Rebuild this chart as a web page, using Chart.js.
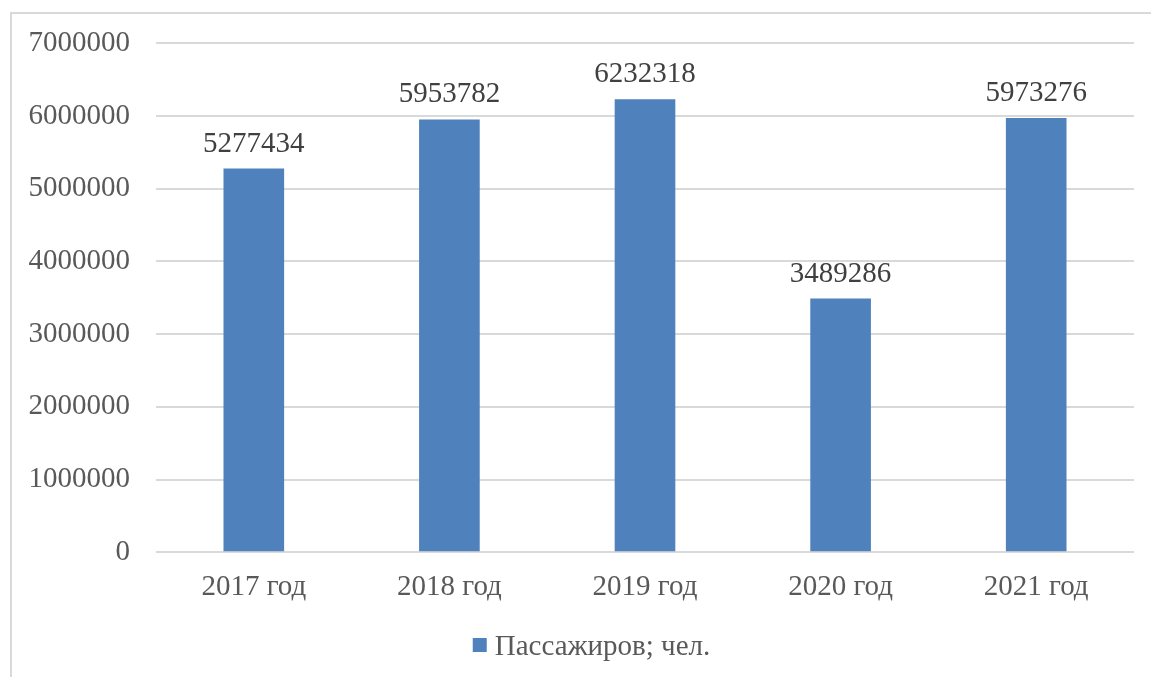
<!DOCTYPE html>
<html lang="ru">
<head>
<meta charset="utf-8">
<title>Пассажиров; чел.</title>
<script src="https://cdn.jsdelivr.net/npm/chart.js@4.4.1/dist/chart.umd.min.js"></script>
<style>
  html, body { margin: 0; padding: 0; background: #fff; overflow: hidden; }
  .frame {
    position: absolute; left: 10px; top: 12px;
    width: 1300px; height: 800px;
    border: 2px solid #d9d9d9;
  }
  .wrap { position: absolute; left: 0; top: 0; width: 1151px; height: 677px; }
</style>
</head>
<body>
<div class="frame"></div>
<div class="wrap"><canvas id="chart-passengers"></canvas></div>
<script>
const years = ['2017 год', '2018 год', '2019 год', '2020 год', '2021 год'];
const passengers = [5277434, 5953782, 6232318, 3489286, 5973276];
const seriesLabel = 'Пассажиров; чел.';

const BAR_COLOR = 'rgb(79, 129, 189)';
const FONT = '"Liberation Serif", "Times New Roman", serif';

// labels over bars, no datalabels plugin available offline
const valueLabels = {
  id: 'valueLabels',
  afterDatasetsDraw(chart) {
    const { ctx } = chart;
    const meta = chart.getDatasetMeta(0);
    ctx.save();
    ctx.font = `29px ${FONT}`;
    ctx.fillStyle = '#404040';
    ctx.textAlign = 'center';
    ctx.textBaseline = 'alphabetic';
    meta.data.forEach((bar, i) => {
      ctx.fillText(String(chart.data.datasets[0].data[i]), bar.x, bar.y - 17);
    });
    ctx.restore();
  }
};

// Excel-like legend: small square, tight gap, slightly right of centre
const bottomLegend = {
  id: 'bottomLegend',
  afterDraw(chart) {
    const { ctx } = chart;
    const ds = chart.data.datasets[0];
    ctx.save();
    ctx.font = `29px ${FONT}`;
    const textW = ctx.measureText(ds.label).width;
    const box = 14, gap = 8;
    const total = box + gap + textW;
    const left = (chart.width + 32) / 2 - total / 2;
    const cy = 645;
    ctx.fillStyle = ds.backgroundColor;
    ctx.fillRect(left, cy - box / 2, box, box);
    ctx.fillStyle = '#595959';
    ctx.textAlign = 'left';
    ctx.textBaseline = 'middle';
    ctx.fillText(ds.label, left + box + gap, cy + 2);
    ctx.restore();
  }
};

const canvas = document.getElementById('chart-passengers');
new Chart(canvas, {
  type: 'bar',
  data: {
    labels: years,
    datasets: [{
      label: seriesLabel,
      data: passengers,
      backgroundColor: BAR_COLOR,
      borderWidth: 0,
      categoryPercentage: 1,
      barPercentage: 0.31
    }]
  },
  options: {
    responsive: true,
    maintainAspectRatio: false,
    animation: false,
    layout: { padding: { left: 0, right: 17, top: 42, bottom: 54 } },
    scales: {
      y: {
        min: 0,
        max: 7000000,
        ticks: {
          stepSize: 1000000,
          padding: 26,
          color: '#595959',
          font: { family: FONT, size: 29 },
          callback: (value) => String(value)
        },
        grid: { color: '#d9d9d9', lineWidth: 2, drawTicks: false },
        border: { display: false },
        afterFit: (scale) => { scale.width = 156; }
      },
      x: {
        ticks: {
          padding: 18,
          color: '#595959',
          font: { family: FONT, size: 29 }
        },
        grid: { display: false, drawTicks: false },
        border: { display: false }
      }
    },
    plugins: {
      legend: { display: false },
      tooltip: { enabled: false }
    }
  },
  plugins: [valueLabels, bottomLegend]
});
</script>
</body>
</html>
